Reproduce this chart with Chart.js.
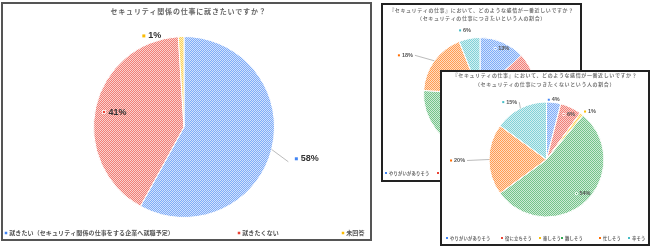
<!DOCTYPE html>
<html>
<head>
<meta charset="utf-8">
<script src="https://cdn.jsdelivr.net/npm/chart.js@4.4.1/dist/chart.umd.min.js"></script>
<style>
  html, body { margin: 0; padding: 0; background: #fff; width: 650px; height: 246px; overflow: hidden; }
  .panel { position: absolute; box-sizing: border-box; background: #fff; }
  #p1 { left: 1px; top: 2px; width: 371px; height: 239px; border: 2px solid #555; z-index: 1; }
  #p2 { left: 381px; top: 3px; width: 201px; height: 179px; border: 2px solid #222; z-index: 2; }
  #p3 { left: 440px; top: 70px; width: 210px; height: 176px; border: 2px solid #222; z-index: 3; }
  canvas { display: block; }
</style>
</head>
<body>
<div class="panel" id="p1"><canvas id="c1" width="367" height="235"></canvas></div>
<div class="panel" id="p2"><canvas id="c2" width="197" height="175"></canvas></div>
<div class="panel" id="p3"><canvas id="c3" width="206" height="172"></canvas></div>
<script>
// --- data ---
const q1Title = ['セキュリティ関係の仕事に就きたいですか？'];
const q1Labels = ['就きたい（セキュリティ関係の仕事をする企業へ就職予定）', '就きたくない', '未回答'];
const q1Values = [58, 41, 1];

const wantTitle = ['『セキュリティの仕事』において、どのような感情が一番近しいですか？', '（セキュリティの仕事につきたいという人の割合）'];
const notWantTitle = ['『セキュリティの仕事』において、どのような感情が一番近しいですか？', '（セキュリティの仕事につきたくないという人の割合）'];
const feelLabels = ['やりがいがありそう', '役に立ちそう', '楽しそう', '難しそう', '忙しそう', '辛そう'];
const wantValues = [13, 14, 3, 46, 18, 6];
const notWantValues = [4, 6, 1, 54, 20, 15];

const q1Colors = ['#4285f4', '#ea4335', '#fbbc04'];
const feelColors = ['#4285f4', '#ea4335', '#fbbc04', '#34a853', '#ff6d01', '#46bdc6'];

const JP = '"Noto Sans CJK JP", "Noto Sans", sans-serif';

// fine checker fill, like the spreadsheet pattern
function hatch(color, hi, lo) {
  const c = document.createElement('canvas');
  c.width = 4; c.height = 4;
  const g = c.getContext('2d');
  g.fillStyle = '#fff'; g.fillRect(0, 0, 4, 4);
  g.fillStyle = color;
  for (let i = 0; i < 4; i++) for (let j = 0; j < 4; j++) {
    g.globalAlpha = (i + j) % 2 === 0 ? hi : lo;
    g.fillRect(i, j, 1, 1);
  }
  return g.createPattern(c, 'repeat');
}

const pieText = {
  id: 'pieText',
  afterDatasetsDraw(chart, args, o) {
    const ctx = chart.ctx;
    const meta = chart.getDatasetMeta(0);
    const values = chart.data.datasets[0].data;
    ctx.save();

    // titles
    ctx.fillStyle = o.titleColor;
    ctx.font = o.titleFont;
    ctx.letterSpacing = o.titleSpacing;
    ctx.textAlign = 'center';
    ctx.textBaseline = 'middle';
    o.title.forEach((t, i) => ctx.fillText(t, chart.width / 2 + o.titleShift, o.titleY[i]));
    ctx.letterSpacing = '0px';

    // slice labels
    ctx.font = o.labelFont;
    ctx.textAlign = 'left';
    meta.data.forEach((arc, i) => {
      const p = o.place[i];
      const { x, y, startAngle, endAngle, outerRadius } =
        arc.getProps(['x', 'y', 'startAngle', 'endAngle', 'outerRadius'], true);
      const mid = (startAngle + endAngle) / 2;
      const a = mid + p.shift * Math.PI / 180;
      const lx = x + Math.cos(a) * outerRadius * p.f;
      const ly = y + Math.sin(a) * outerRadius * p.f;
      const txt = values[i] + '%';
      const tx = lx + o.marker / 2 + o.gap;
      const tw = ctx.measureText(txt).width;
      if (p.leader) {
        const ex = x + Math.cos(mid) * outerRadius;
        const ey = y + Math.sin(mid) * outerRadius;
        ctx.strokeStyle = '#aaa';
        ctx.lineWidth = 0.8;
        ctx.beginPath();
        if (lx < x) { ctx.moveTo(tx + tw + 2, ly); } else { ctx.moveTo(lx - 8, ly + 3); }
        ctx.lineTo(ex, ey);
        ctx.stroke();
      }
      ctx.fillStyle = o.colors[i];
      ctx.fillRect(lx - o.marker / 2, ly - o.marker / 2, o.marker, o.marker);
      if (p.f < 1) {
        ctx.strokeStyle = '#fff'; ctx.lineWidth = 0.8;
        ctx.strokeRect(lx - o.marker / 2, ly - o.marker / 2, o.marker, o.marker);
      }
      ctx.fillStyle = o.labelColor;
      ctx.fillText(txt, tx, ly);
    });

    // legend
    ctx.font = o.legendFont;
    ctx.letterSpacing = o.legendSpacing;
    chart.data.labels.forEach((lab, i) => {
      const lx = o.legendX[i];
      ctx.fillStyle = o.colors[i];
      ctx.fillRect(lx - o.legendMarker / 2, o.legendY - o.legendMarker / 2, o.legendMarker, o.legendMarker);
      ctx.fillStyle = o.legendColor;
      ctx.fillText(lab, lx + o.legendMarker / 2 + 2, o.legendY);
    });
    ctx.restore();
  }
};

function makePie(id, labels, values, colors, padding, textOpts) {
  return new Chart(document.getElementById(id), {
    type: 'pie',
    data: {
      labels,
      datasets: [{
        data: values,
        backgroundColor: colors.map(c => hatch(c, 0.68, 0.24)),
        borderColor: '#fff',
        borderWidth: 1
      }]
    },
    options: {
      responsive: false,
      animation: false,
      layout: { padding },
      plugins: {
        legend: { display: false },
        tooltip: { enabled: false },
        pieText: Object.assign({ colors }, textOpts)
      }
    },
    plugins: [pieText]
  });
}

makePie('c1', q1Labels, q1Values, q1Colors,
  { left: 90, right: 95, top: 32, bottom: 21 },
  {
    title: q1Title, titleY: [7], titleShift: 2,
    titleFont: 'bold 7px ' + JP, titleSpacing: '0.8px', titleColor: '#666',
    labelFont: 'bold 9px "Liberation Sans", Arial, sans-serif', labelColor: '#333',
    marker: 3, gap: 3,
    place: [
      { f: 1.29, shift: 1.4, leader: true },
      { f: 0.9, shift: -2 },
      { f: 1.1, shift: -22 }
    ],
    legendFont: 'bold 6px ' + JP, legendSpacing: '0.1px', legendColor: '#555',
    legendMarker: 2.5, legendX: [3, 236, 340], legendY: 229
  });

const smallText = {
  titleFont: 'bold 5px ' + JP, titleSpacing: '0.6px', titleColor: '#777', titleShift: 0,
  labelFont: 'bold 5.5px "Liberation Sans", Arial, sans-serif', labelColor: '#555',
  marker: 2, gap: 2,
  legendFont: 'bold 4.3px ' + JP, legendSpacing: '0.2px', legendColor: '#666',
  legendMarker: 2
};

makePie('c2', feelLabels, wantValues, feelColors,
  { left: 40, right: 43, top: 32, bottom: 29 },
  Object.assign({}, smallText, {
    title: wantTitle, titleY: [5, 13],
    place: [
      { f: 0.85, shift: -5 },
      { f: 0.8, shift: 0 },
      { f: 1.1, shift: 0 },
      { f: 0.8, shift: 0 },
      { f: 1.59, shift: -10.5, leader: true },
      { f: 1.18, shift: -6.6 }
    ],
    legendX: [3, 55, 92, 113, 149, 176], legendY: 168
  }));

makePie('c3', feelLabels, notWantValues, feelColors,
  { left: 46.5, right: 43.5, top: 29.5, bottom: 26.5 },
  Object.assign({}, smallText, {
    title: notWantTitle, titleY: [3, 12],
    place: [
      { f: 1.04, shift: -5 },
      { f: 0.84, shift: -4 },
      { f: 1.07, shift: 1 },
      { f: 0.79, shift: 2 },
      { f: 1.66, shift: -0.6, leader: true },
      { f: 1.25, shift: -10, leader: true }
    ],
    legendX: [5, 60, 98, 120, 158, 187], legendY: 166
  }));
</script>
</body>
</html>
